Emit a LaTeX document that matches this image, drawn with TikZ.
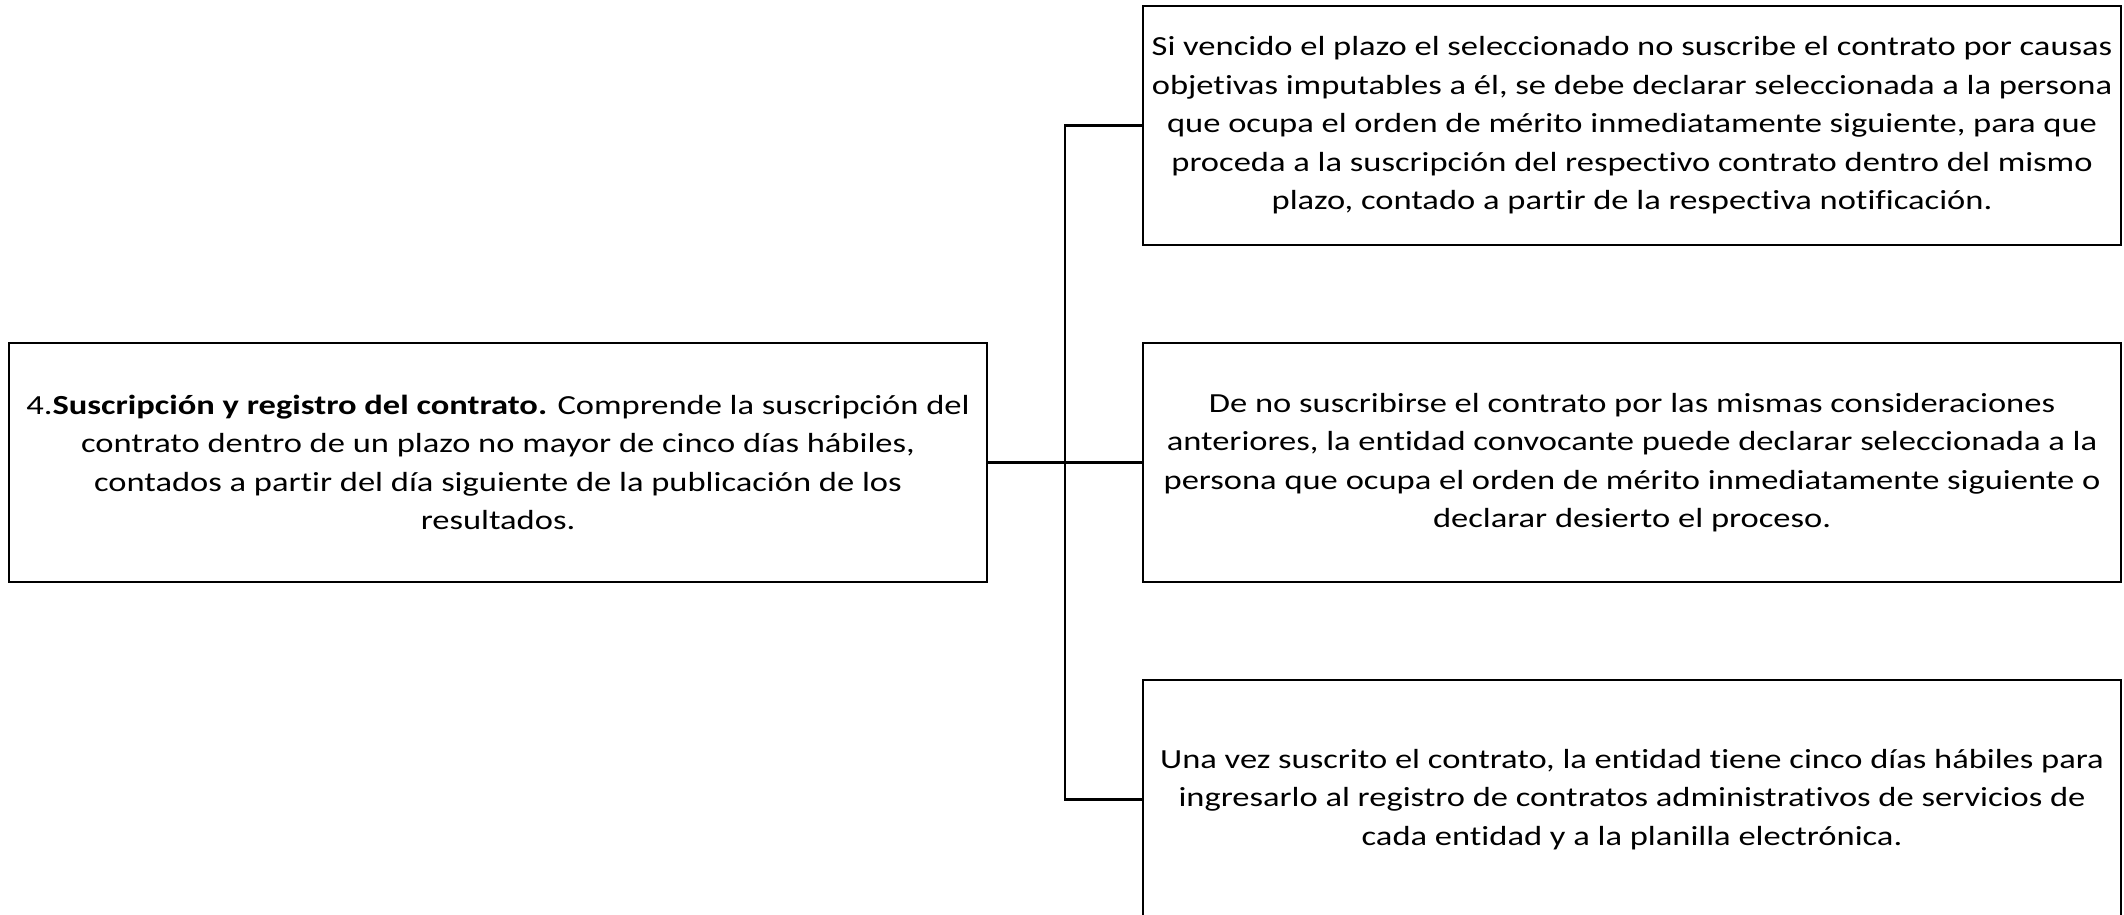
\documentclass[tikz,border=0pt]{standalone}
\usepackage{fontspec}
\setmainfont[Ligatures=NoCommon,FakeStretch=1.25]{Carlito}
\usetikzlibrary{calc,positioning}
\tikzset{
  node distance=95.5pt and 153.5pt,
  caja/.style={draw=black,line width=2.5pt,minimum width=978pt,minimum height=239pt,
               inner sep=0pt,align=center,font=\fontsize{27.6}{38.5}\selectfont}
}

\begin{document}
\begin{tikzpicture}[x=1pt,y=1pt]
          \useasboundingbox (0,0) rectangle (2124,-914);
          \begin{scope}
              \node[caja] (paso4) at (498,-462.5) {4.\textbf{Suscripción y registro del contrato.} Comprende la suscripción del\\contrato dentro de un plazo no mayor de cinco días hábiles,\\contados a partir del día siguiente de la publicación de los\\resultados.};
              \node[caja] (desierto) [right=of paso4] {De no suscribirse el contrato por las mismas consideraciones\\anteriores, la entidad convocante puede declarar seleccionada a la\\persona que ocupa el orden de mérito inmediatamente siguiente o\\declarar desierto el proceso.};
              \node[caja] (plazo) [above=of desierto] {Si vencido el plazo el seleccionado no suscribe el contrato por causas\\objetivas imputables a él, se debe declarar seleccionada a la persona\\que ocupa el orden de mérito inmediatamente siguiente, para que\\proceda a la suscripción del respectivo contrato dentro del mismo\\plazo, contado a partir de la respectiva notificación.};
              \node[caja] (registro) [below=of desierto] {Una vez suscrito el contrato, la entidad tiene cinco días hábiles para\\ingresarlo al registro de contratos administrativos de servicios de\\cada entidad y a la planilla electrónica.};
          \end{scope}

          \begin{scope}[every path/.style={draw=black,line width=2.5pt}]
              \coordinate (tronco) at ($(paso4.east)!0.5!(desierto.west)$);
              \path (paso4.east) -- (desierto.west);
              \path (plazo.west) -| (tronco);
              \path (registro.west) -| (tronco);
          \end{scope}
\end{tikzpicture}
\end{document}
